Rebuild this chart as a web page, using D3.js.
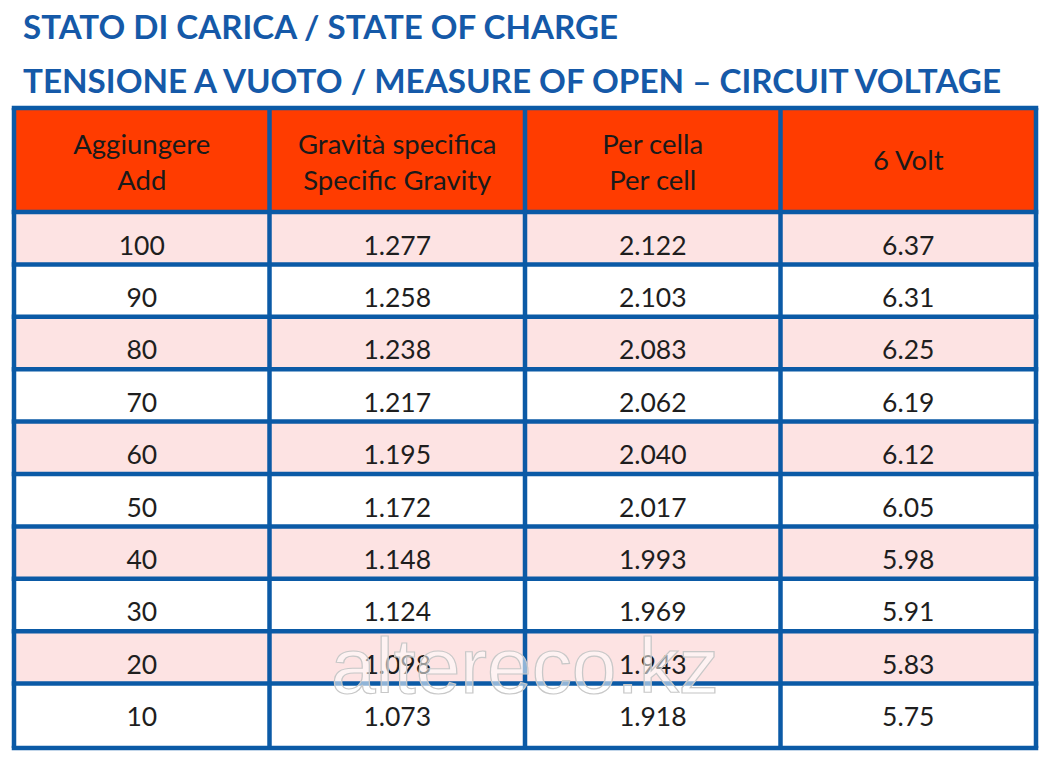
<!DOCTYPE html>
<html><head><meta charset="utf-8">
<script src="https://cdn.jsdelivr.net/npm/d3@7/dist/d3.min.js"></script>
<style>html,body{margin:0;padding:0;background:#fff;}svg{display:block;}</style>
</head><body>
<svg id="c" width="1049" height="765"></svg>
<script>
const titles = ["STATO DI CARICA / STATE OF CHARGE", "TENSIONE A VUOTO / MEASURE OF OPEN \u2013 CIRCUIT VOLTAGE"];
const headers = [["Aggiungere","Add"],["Gravit\u00e0 specifica","Specific Gravity"],["Per cella","Per cell"],["6 Volt"]];
const charge = ["100","90","80","70","60","50","40","30","20","10"];
const gravity = ["1.277","1.258","1.238","1.217","1.195","1.172","1.148","1.124","1.098","1.073"];
const perCell = ["2.122","2.103","2.083","2.062","2.040","2.017","1.993","1.969","1.943","1.918"];
const volt6 = ["6.37","6.31","6.25","6.19","6.12","6.05","5.98","5.91","5.83","5.75"];
const watermark = "altereco.kz";

(function(){
const rows = charge.map((c,i)=>[c, gravity[i], perCell[i], volt6[i]]);
const svg = d3.select("#c");
const blue = "#0b5aa6";
const font = "Lato, 'Open Sans', sans-serif";

// titles
const titleY = [39, 93];
const titleW = [595, 978];
titles.forEach((t,i)=>{
  svg.append("text").attr("x",23).attr("y",titleY[i])
    .attr("font-family",font).attr("font-weight",700).attr("font-size",32)
    .attr("fill","#1559a8").attr("textLength",titleW[i]).attr("lengthAdjust","spacingAndGlyphs")
    .text(t);
});

const tLeft = 14, tRight = 1036, tTop = 108, headBottom = 212, bodyEnd = 736, tBottom = 748;
const x = d3.scaleBand().domain(d3.range(4)).range([tLeft,tRight]);
const y = d3.scaleBand().domain(d3.range(rows.length)).range([headBottom,bodyEnd]);
const rowBottom = i => i === rows.length-1 ? tBottom : y(i)+y.bandwidth();

// header fill
svg.append("rect").attr("x",tLeft).attr("y",tTop).attr("width",tRight-tLeft).attr("height",headBottom-tTop).attr("fill","#ff3c00");
// row fills
svg.selectAll("rect.row").data(rows).join("rect").attr("class","row")
  .attr("x",tLeft).attr("y",(d,i)=>y(i)).attr("width",tRight-tLeft).attr("height",(d,i)=>rowBottom(i)-y(i))
  .attr("fill",(d,i)=>i%2===0?"#fde3e3":"#ffffff");

// header text
headers.forEach((h,j)=>{
  const cx = x(j)+x.bandwidth()/2;
  const t = svg.append("text").attr("text-anchor","middle").attr("font-family",font)
    .attr("font-size",27.5).attr("fill","#1a1a1a");
  if(h.length===2){
    t.append("tspan").attr("x",cx).attr("y",tTop+46).text(h[0]);
    t.append("tspan").attr("x",cx).attr("y",tTop+82).text(h[1]);
  } else {
    t.append("tspan").attr("x",cx).attr("y",tTop+62).text(h[0]);
  }
});

// body text
rows.forEach((r,i)=>{
  r.forEach((v,j)=>{
    svg.append("text").attr("x",x(j)+x.bandwidth()/2).attr("y",y(i)+42.5)
      .attr("text-anchor","middle").attr("font-family",font).attr("font-size",26.5)
      .attr("fill","#1e1e1e").text(v);
  });
});

// grid lines
const g = svg.append("g").attr("stroke",blue).attr("stroke-width",4.5);
[tTop, headBottom, ...d3.range(1,rows.length).map(i=>y(i)), tBottom].forEach(yy=>{
  g.append("line").attr("x1",tLeft-2.25).attr("x2",tRight+2.25).attr("y1",yy).attr("y2",yy);
});
[...d3.range(4).map(j=>x(j)), tRight].forEach(xx=>{
  g.append("line").attr("x1",xx).attr("x2",xx).attr("y1",tTop).attr("y2",tBottom);
});

// watermark
svg.append("text").attr("x",525).attr("y",693).attr("text-anchor","middle")
  .attr("font-family","'Liberation Sans', Arial, sans-serif").attr("font-size",78)
  .attr("fill","rgba(255,255,255,0.55)").attr("stroke","#c8c8c8").attr("stroke-width",1.2)
  .attr("textLength",388).attr("lengthAdjust","spacingAndGlyphs").text(watermark);
})();
</script>
</body></html>
